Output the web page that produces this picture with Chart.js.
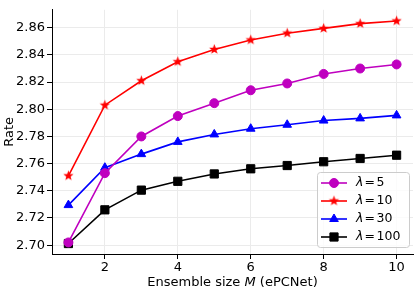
<!DOCTYPE html>
<html>
<head>
<meta charset="utf-8">
<script src="https://cdn.jsdelivr.net/npm/chart.js@4"></script>
<style>
  html, body { margin: 0; padding: 0; background: #fff; }
  canvas { display: block; }
</style>
</head>
<body>
<canvas id="chart" width="415" height="289"></canvas>
<script>
const ensembleSizes = [1, 2, 3, 4, 5, 6, 7, 8, 9, 10];
const rateLambda5   = [2.702, 2.753, 2.780, 2.795, 2.8045, 2.814, 2.819, 2.826, 2.830, 2.833];
const rateLambda10  = [2.751, 2.803, 2.821, 2.835, 2.844, 2.851, 2.856, 2.8595, 2.863, 2.865];
const rateLambda30  = [2.7295, 2.757, 2.767, 2.776, 2.7815, 2.7857, 2.7886, 2.7917, 2.7933, 2.7955];
const rateLambda100 = [2.7012, 2.726, 2.7405, 2.747, 2.7524, 2.7562, 2.7586, 2.7614, 2.7638, 2.7662];
const lambdaValues = ['5', '10', '30', '100'];
const xTicks = [2, 4, 6, 8, 10];
const yTicks = [2.70, 2.72, 2.74, 2.76, 2.78, 2.80, 2.82, 2.84, 2.86];

const FONT = '"DejaVu Sans", sans-serif';

// filled five point star, like matplotlib's '*'
function makeStar(color, outer) {
  const c = document.createElement('canvas');
  const s = Math.ceil(outer * 2 + 2);
  c.width = s; c.height = s;
  const g = c.getContext('2d');
  const inner = outer * 0.42;
  g.beginPath();
  for (let i = 0; i < 10; i++) {
    const r = i % 2 === 0 ? outer : inner;
    const a = -Math.PI / 2 + i * Math.PI / 5;
    const px = s / 2 + r * Math.cos(a), py = s / 2 + r * Math.sin(a);
    i === 0 ? g.moveTo(px, py) : g.lineTo(px, py);
  }
  g.closePath();
  g.fillStyle = color;
  g.fill();
  return c;
}

const starRed = makeStar('#ff0000', 5.4);

function series(values, color, style, radius) {
  return {
    data: ensembleSizes.map((x, i) => ({ x, y: values[i] })),
    borderColor: color,
    backgroundColor: color,
    pointBackgroundColor: color,
    pointBorderColor: color,
    borderWidth: 1.6,
    pointStyle: style,
    pointRadius: radius,
    pointHoverRadius: radius,
    pointBorderWidth: 1,
    tension: 0
  };
}

const datasets = [
  series(rateLambda5, '#bf00bf', 'circle', 4.5),
  series(rateLambda10, '#ff0000', starRed, 5),
  series(rateLambda30, '#0000ff', 'triangle', 5),
  series(rateLambda100, '#000000', 'rect', 5.8)
];

const axisText = {
  id: 'axisText',
  afterDraw(chart) {
    const { ctx, chartArea } = chart;
    ctx.save();
    ctx.fillStyle = '#000';
    ctx.textBaseline = 'alphabetic';
    // x title with italic M
    const parts = [['Ensemble size ', 'normal'], ['M', 'italic'], [' (ePCNet)', 'normal']];
    let total = 0;
    parts.forEach(([t, st]) => { ctx.font = st + ' 13px ' + FONT; total += ctx.measureText(t).width; });
    let x = (chartArea.left + chartArea.right) / 2 - total / 2;
    parts.forEach(([t, st]) => {
      ctx.font = st + ' 13px ' + FONT;
      ctx.textAlign = 'left';
      ctx.fillText(t, x, 286);
      x += ctx.measureText(t).width;
    });
    // y title
    ctx.translate(13, (chartArea.top + chartArea.bottom) / 2);
    ctx.rotate(-Math.PI / 2);
    ctx.font = '13px ' + FONT;
    ctx.textAlign = 'center';
    ctx.fillText('Rate', 0, 0);
    ctx.restore();
  }
};

const innerLegend = {
  id: 'innerLegend',
  afterDraw(chart) {
    const { ctx } = chart;
    const bx = 317, by = 172, bw = 92, bh = 75;
    ctx.save();
    ctx.beginPath();
    ctx.roundRect(bx + 0.5, by + 0.5, bw, bh, 3);
    ctx.fillStyle = 'rgba(255,255,255,0.8)';
    ctx.fill();
    ctx.strokeStyle = '#cccccc';
    ctx.lineWidth = 1;
    ctx.stroke();
    const rows = [183, 201, 219, 237];
    chart.data.datasets.forEach((ds, i) => {
      const y = rows[i];
      ctx.strokeStyle = ds.borderColor;
      ctx.fillStyle = ds.borderColor;
      ctx.lineWidth = ds.borderWidth;
      ctx.beginPath();
      ctx.moveTo(321, y);
      ctx.lineTo(347, y);
      ctx.stroke();
      ctx.lineWidth = 1;
      Chart.helpers.drawPoint(ctx, { pointStyle: ds.pointStyle, radius: ds.pointRadius, rotation: 0, borderWidth: 1 }, 334, y);
      ctx.fillStyle = '#000';
      ctx.textBaseline = 'middle';
      ctx.textAlign = 'left';
      ctx.font = 'italic 12.5px ' + FONT;
      ctx.fillText('\u03bb', 356, y);
      ctx.font = '12.5px ' + FONT;
      ctx.fillText('=', 364.5, y);
      ctx.fillText(lambdaValues[i], 376.5, y);
    });
    ctx.restore();
  }
};

new Chart(document.getElementById('chart'), {
  type: 'line',
  data: { datasets },
  plugins: [axisText, innerLegend],
  options: {
    responsive: false,
    animation: false,
    devicePixelRatio: 1,
    layout: { autoPadding: false, padding: { top: 1.5, right: 2, left: 0, bottom: 0 } },
    plugins: { legend: { display: false }, tooltip: { enabled: false } },
    scales: {
      x: {
        type: 'linear',
        min: 0.55,
        max: 10.45,
        afterBuildTicks: (s) => { s.ticks = xTicks.map((v) => ({ value: v })); },
        afterFit: (s) => { s.height = 35; },
        grid: { color: '#ebebeb', lineWidth: 1, tickColor: '#000', tickLength: 5, drawTicks: true },
        border: { color: '#000', width: 1 },
        ticks: { color: '#000', font: { family: FONT, size: 13 }, padding: 1, maxRotation: 0 }
      },
      y: {
        type: 'linear',
        min: 2.6935,
        max: 2.8732,
        afterBuildTicks: (s) => { s.ticks = yTicks.map((v) => ({ value: v })); },
        afterFit: (s) => { s.width = 52; },
        grid: { color: '#ebebeb', lineWidth: 1, tickColor: '#000', tickLength: 5, drawTicks: true },
        border: { color: '#000', width: 1 },
        ticks: { color: '#000', font: { family: FONT, size: 13 }, padding: 2, callback: (v) => v.toFixed(2) }
      }
    }
  }
});
</script>
</body>
</html>
